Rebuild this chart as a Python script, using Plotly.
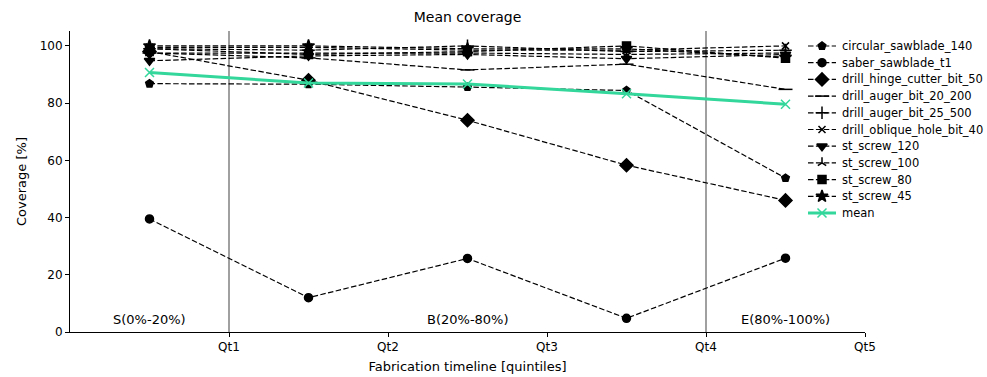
import plotly.graph_objects as go

x_pos = [0.5, 1.5, 2.5, 3.5, 4.5]
tick_vals = [1, 2, 3, 4, 5]
tick_labels = ["Qt1", "Qt2", "Qt3", "Qt4", "Qt5"]

circular_sawblade_140 = [86.8, 86.6, 85.6, 84.4, 53.8]
saber_sawblade_t1 = [39.5, 12.0, 25.7, 4.8, 25.8]
drill_hinge_cutter_bit_50 = [98.0, 88.0, 74.0, 58.3, 46.0]
drill_auger_bit_20_200 = [97.5, 95.8, 91.6, 93.6, 84.8]
drill_auger_bit_25_500 = [99.0, 98.5, 100.0, 98.0, 98.5]
drill_oblique_hole_bit_40 = [99.5, 99.5, 98.5, 98.5, 100.0]
st_screw_120 = [94.8, 96.5, 97.0, 95.5, 97.0]
st_screw_100 = [97.5, 97.5, 97.5, 97.0, 97.5]
st_screw_80 = [99.0, 97.0, 98.0, 100.0, 95.7]
st_screw_45 = [100.0, 100.0, 99.0, 99.0, 96.0]
mean_values = [90.7, 87.0, 86.7, 83.3, 79.6]

phase_labels = ["S(0%-20%)", "B(20%-80%)", "E(80%-100%)"]
phase_x = [0.5, 2.5, 4.5]
phase_y = [4.2, 4.2, 4.2]
boundaries = [1, 4]

series = [
    ("circular_sawblade_140", circular_sawblade_140, "pentagon", 8),
    ("saber_sawblade_t1", saber_sawblade_t1, "circle", 8),
    ("drill_hinge_cutter_bit_50", drill_hinge_cutter_bit_50, "diamond", 10),
    ("drill_auger_bit_20_200", drill_auger_bit_20_200, "line-ew", 10),
    ("drill_auger_bit_25_500", drill_auger_bit_25_500, "cross-thin", 9),
    ("drill_oblique_hole_bit_40", drill_oblique_hole_bit_40, "x-thin", 7),
    ("st_screw_120", st_screw_120, "triangle-down", 9),
    ("st_screw_100", st_screw_100, "y-up", 7),
    ("st_screw_80", st_screw_80, "square", 8),
    ("st_screw_45", st_screw_45, "star", 9),
]
MEAN_COLOR = "#33d69b"
DASH = "5.5px,2.4px"

W, H = 987, 377
PL, PR, PT, PB = 70, 865, 31, 332  # plot box in pixels

fig = go.Figure()
for name, vals, sym, sz in series:
    fig.add_trace(go.Scatter(
        x=x_pos, y=vals, name=name, mode="lines+markers", showlegend=False,
        line=dict(color="black", width=1.2, dash=DASH),
        marker=dict(symbol=sym, size=sz, color="black",
                    line=dict(color="black", width=1.5)),
    ))

fig.add_trace(go.Scatter(
    x=x_pos, y=mean_values, name="mean", mode="lines+markers", showlegend=False,
    line=dict(color=MEAN_COLOR, width=3),
    marker=dict(symbol="x-thin", size=9, color=MEAN_COLOR,
                line=dict(color=MEAN_COLOR, width=1.5)),
))

# ---- hand-made legend (compact row spacing) on an overlay axis in pixel units ----
leg_entries = [(n, s, z, "black", DASH, 1.2) for n, _, s, z in series]
leg_entries.append(("mean", "x-thin", 9, MEAN_COLOR, "solid", 3))
row0, row_gap = 46, 16.7
for i, (name, sym, sz, col, dash, lw) in enumerate(leg_entries):
    yy = row0 + i * row_gap
    fig.add_trace(go.Scatter(
        x=[0, 14, 28], y=[yy, yy, yy], mode="lines", xaxis="x2", yaxis="y2",
        showlegend=False, hoverinfo="skip",
        line=dict(color=col, width=lw, dash=dash),
    ))
    fig.add_trace(go.Scatter(
        x=[14], y=[yy], mode="markers", xaxis="x2", yaxis="y2",
        showlegend=False, hoverinfo="skip",
        marker=dict(symbol=sym, size=sz, color=col, line=dict(color=col, width=1.5)),
    ))
    fig.add_annotation(x=840 / W, y=yy, xref="paper", yref="y2", text=name,
                       showarrow=False, xanchor="left", yanchor="middle",
                       font=dict(size=11.5, color="black"))

for b in boundaries:
    fig.add_shape(type="line", xref="x", yref="y domain", x0=b, x1=b, y0=0, y1=1,
                  line=dict(color="#808080", width=1.5), layer="below")

for t, px, py in zip(phase_labels, phase_x, phase_y):
    fig.add_annotation(x=px, y=py, text=t, showarrow=False, xref="x", yref="y",
                       font=dict(size=13, color="black"), yanchor="middle")

fig.update_layout(
    width=W, height=H,
    margin=dict(l=0, r=0, t=PT, b=H - PB, autoexpand=False),
    paper_bgcolor="white", plot_bgcolor="white",
    font=dict(family="DejaVu Sans", size=12, color="black"),
    title=dict(text="Mean coverage", x=(PL + PR) / 2 / W, xanchor="center",
               y=1 - 17 / H, yanchor="middle", font=dict(size=14)),
    showlegend=False,
    xaxis=dict(domain=[PL / W, PR / W], anchor="y", range=[0, 5],
               tickvals=tick_vals, ticktext=tick_labels,
               showgrid=False, zeroline=False, showline=True,
               linecolor="black", linewidth=1, ticks="outside",
               ticklen=4, tickcolor="black",
               title=dict(text="Fabrication timeline [quintiles]", standoff=8,
                          font=dict(size=13)),
               tickfont=dict(size=12)),
    yaxis=dict(domain=[0, 1], anchor="x", range=[0, 105.2],
               tickvals=[0, 20, 40, 60, 80, 100],
               showgrid=False, zeroline=False, showline=True,
               linecolor="black", linewidth=1, ticks="outside",
               ticklen=4, tickcolor="black",
               title=dict(text="Coverage [%]", standoff=10, font=dict(size=13)),
               tickfont=dict(size=12)),
    xaxis2=dict(domain=[808 / W, 836 / W], range=[0, 28], anchor="y2",
                visible=False, fixedrange=True),
    yaxis2=dict(domain=[0, 1], range=[PB, PT], anchor="x2", overlaying="y",
                visible=False, fixedrange=True),
)

fig.write_html("out.html")
